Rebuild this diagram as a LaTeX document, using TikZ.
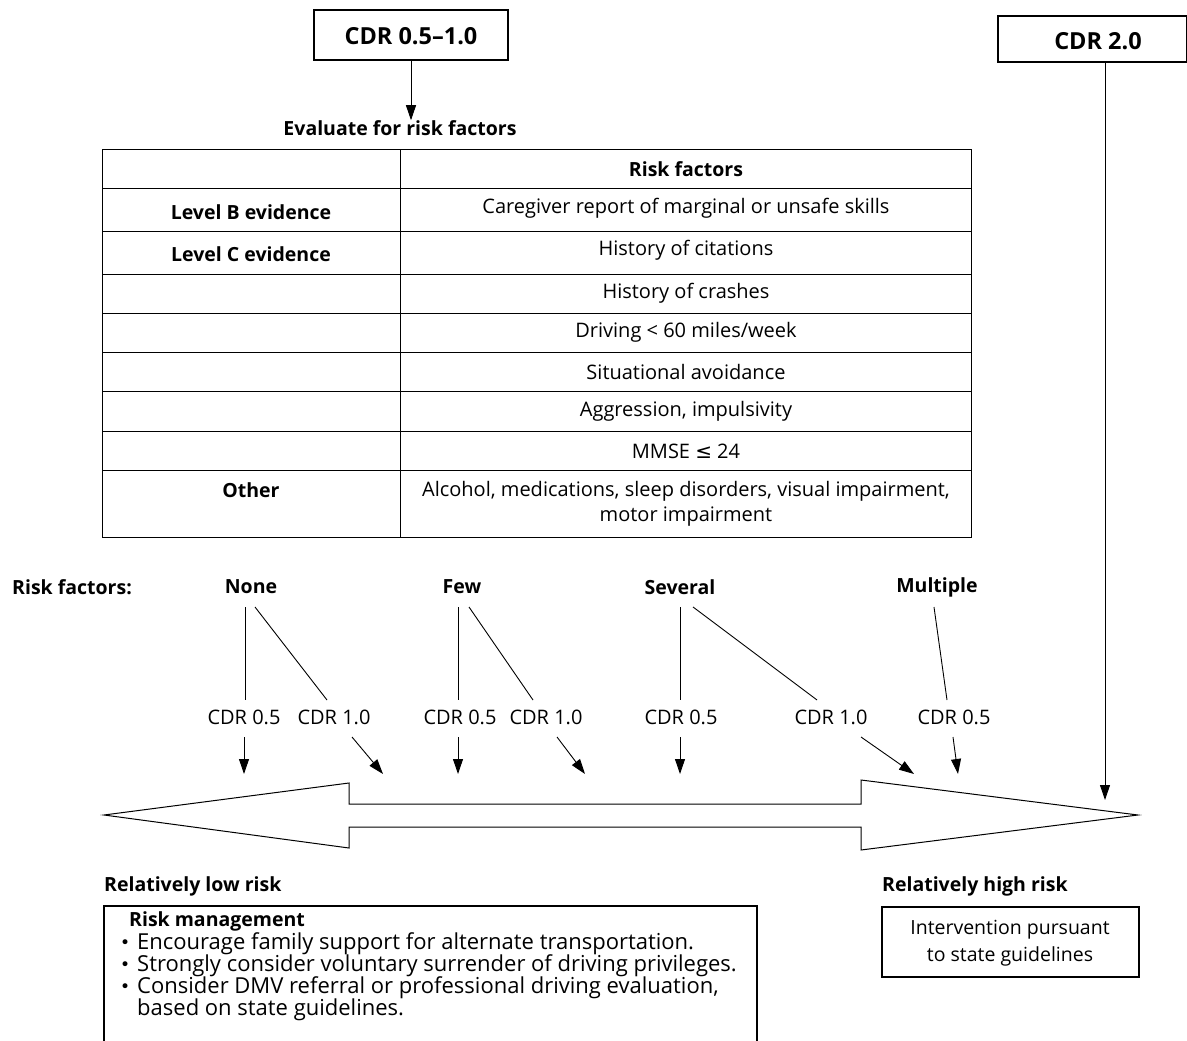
\documentclass[tikz,border=0pt]{standalone}
\usepackage{fontspec}
\setmainfont{Open Sans}
\newfontfamily\symfont{DejaVu Sans}
\usetikzlibrary{arrows.meta}
\begin{document}
\begin{tikzpicture}[x=1pt,y=-1pt,
  txt/.style={font=\fontsize{20}{22}\selectfont, inner sep=0pt},
  btxt/.style={font=\fontsize{19.5}{22}\selectfont\bfseries, inner sep=0pt},
  bigb/.style={font=\fontsize{23.5}{26}\selectfont\bfseries, inner sep=0pt},
  mtxt/.style={font=\fontsize{22}{24}\selectfont, inner sep=0pt, anchor=west},
  ln/.style={line width=0.9pt},
  arr/.style={line width=0.9pt, -{Triangle[length=15pt,width=10pt]}},
  frame/.style={draw, line width=1.1pt}]
\useasboundingbox (0,0) rectangle (1187,1041);

% top boxes
\draw[frame] (314,10) rectangle (508,60);
\node[bigb] (cdr1) at (411,36) {CDR 0.5--1.0};
\coordinate (cdr1b) at (411,60);
\node[btxt] (eval) at (400,128) {Evaluate for risk factors};
\draw[arr] (cdr1b) -- (cdr1b |- eval.north);

\draw[frame] (998,16) -- (1186.5,16) -- (1186.5,62) -- (998,62) -- cycle;
\node[bigb] (cdr2) at (1098,41) {CDR 2.0};
\coordinate (cdr2b) at (1105,62);
\coordinate (cdr2tip) at (1105,800);
\draw[arr] (cdr2b) -- (cdr2tip);

% table
\draw[ln] (102,149) rectangle (971,537);
\draw[ln] (400,149) -- (400,537);
\foreach \y in {188,231,274,313,352,391,431,470} \draw[ln] (102,\y) -- (971,\y);
\node[btxt] (hdr) at (686,169) {Risk factors};
\node[btxt] (lb) at (251,212) {Level B evidence};
\node[btxt] (lc) at (251,254) {Level C evidence};
\node[btxt] (oth) at (251,490) {Other};
\node[txt] (r1) at (686,208) {Caregiver report of marginal or unsafe skills};
\node[txt] (r2) at (686,250) {History of citations};
\node[txt] (r3) at (686,293) {History of crashes};
\node[txt] (r4) at (686,332) {Driving < 60 miles/week};
\node[txt] (r5) at (686,372) {Situational avoidance};
\node[txt] (r6) at (686,411) {Aggression, impulsivity};
\node[txt] (r7) at (686,451) {MMSE {\symfont ≤} 24};
\node[txt] (r8a) at (686,491) {Alcohol, medications, sleep disorders, visual impairment,};
\node[txt] (r8b) at (686,517) {motor impairment};

% risk factor levels
\node[btxt, anchor=west] (rf) at (12,587) {Risk factors:};
\node[btxt] (none) at (251,587) {None};
\node[btxt] (few) at (462,587) {Few};
\node[btxt] (sev) at (680,587) {Several};
\node[btxt] (mul) at (937,587) {Multiple};

\node[txt] (n05) at (244,717) {CDR 0.5};
\node[txt] (n10) at (334,717) {CDR 1.0};
\node[txt] (f05) at (460,717) {CDR 0.5};
\node[txt] (f10) at (546,717) {CDR 1.0};
\node[txt] (s05) at (681,717) {CDR 0.5};
\node[txt] (s10) at (831,717) {CDR 1.0};
\node[txt] (m05) at (954,717) {CDR 0.5};

% tree lines
\coordinate (na) at (245,607); \coordinate (nb) at (255,607);
\coordinate (fa) at (458,607); \coordinate (fb) at (469,607);
\coordinate (sa) at (680,607); \coordinate (sb) at (693,607);
\coordinate (ma) at (934,607);
\draw[ln] (na) -- (na |- 0,700);
\draw[ln] (nb) -- (327,700);
\draw[ln] (fa) -- (fa |- 0,700);
\draw[ln] (fb) -- (533,700);
\draw[ln] (sa) -- (sa |- 0,700);
\draw[ln] (sb) -- (817,700);
\draw[ln] (ma) -- (947,700);

% arrows to the scale
\coordinate (tn05) at (244,774); \coordinate (tn10) at (383,774);
\coordinate (tf05) at (458,774); \coordinate (tf10) at (585,774);
\coordinate (ts05) at (680,774); \coordinate (ts10) at (914,774);
\coordinate (tm05) at (958,774);
\draw[arr] (244,737) -- (tn05);
\draw[arr] (352,737) -- (tn10);
\draw[arr] (458,737) -- (tf05);
\draw[arr] (557,737) -- (tf10);
\draw[arr] (680,737) -- (ts05);
\draw[arr] (861,737) -- (ts10);
\draw[arr] (953,737) -- (tm05);

% double arrow scale
\draw[line width=1pt, line join=miter]
  (104,815) -- (349,783) -- (349,804) -- (861,804) -- (861,780) -- (1138,815)
  -- (861,850) -- (861,827) -- (349,827) -- (349,848) -- cycle;

% bottom labels
\node[btxt, anchor=west] (low) at (104,886) {Relatively low risk};
\node[btxt, anchor=west] (high) at (882,886) {Relatively high risk};

\draw[frame] (104,1045) -- (104,906) -- (757,906) -- (757,1045);
\node[btxt, anchor=west] (rm) at (129,921) {Risk management};
\foreach \yy/\t in {944/Encourage family support for alternate transportation.,
                    966/Strongly consider voluntary surrender of driving privileges.,
                    988/{Consider DMV referral or professional driving evaluation,}} {
  \node[mtxt, font=\fontsize{17}{20}\selectfont\symfont] at (120,\yy) {•};
  \node[mtxt] at (137,\yy) {\t};
}
\node[mtxt] (last) at (137,1010) {based on state guidelines.};

\draw[frame] (882,907) rectangle (1139,977);
\node[txt, align=center, font=\fontsize{19.5}{27}\selectfont] (interv) at (1010,943) {Intervention pursuant\\to state guidelines};
\end{tikzpicture}
\end{document}
